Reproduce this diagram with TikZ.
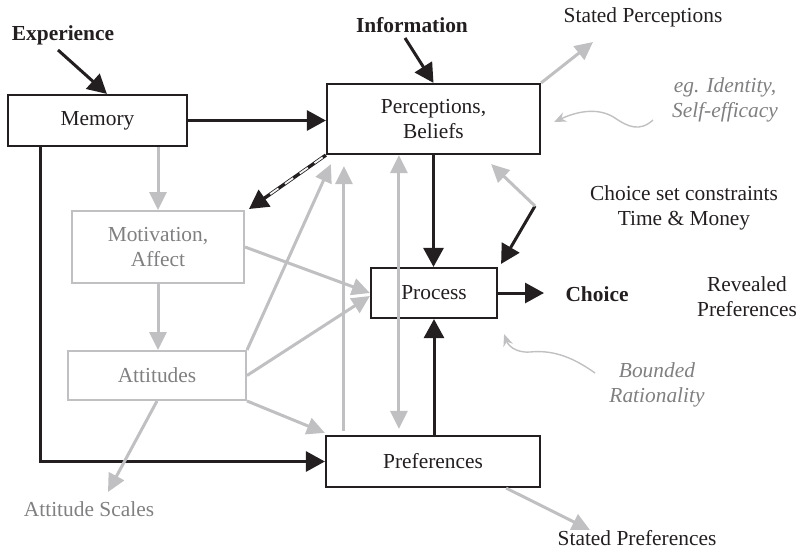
\documentclass[tikz,border=0pt]{standalone}
\usepackage{fontspec}
\setmainfont{Liberation Serif}
\usepackage{tikz}
\usetikzlibrary{arrows.meta, calc}
\definecolor{mdlblack}{RGB}{35,31,32}
\definecolor{mdlgray}{RGB}{192,192,194}
\definecolor{mdltext}{RGB}{128,128,130}

\begin{document}
\begin{tikzpicture}[x=0.5pt, y=-0.5pt,
  every node/.style={font=\fontsize{10.7}{12.5}\selectfont, text=mdlblack},
  box/.style={draw=mdlblack, line width=1.1pt, fill=white, align=center, inner sep=0pt},
  greybox/.style={draw=mdlgray, line width=1pt, fill=white, align=center, inner sep=0pt, text=mdltext},
  blk/.style={draw=mdlblack, line width=1.5pt, -{Triangle[length=9.5pt,width=10pt]}},
  gry/.style={draw=mdlgray, line width=1.5pt, -{Triangle[length=9pt,width=8.5pt]}},
  note/.style={align=center, text=mdltext},
  wavy/.style={draw=mdlgray, line width=0.7pt, -{Stealth[length=6pt,width=5pt]}}]

\useasboundingbox (0,0) rectangle (798,553);

%% Boxes
\node[box, minimum width=89.5pt, minimum height=25.5pt] (mem) at (97.5,120.5) {Memory};
\node[box, minimum width=106.5pt, minimum height=35pt] (per) at (433.5,119) {Perceptions,\\Beliefs};
\node[greybox, minimum width=86pt, minimum height=36pt] (mot) at (158,247) {Motivation,\\Affect};
\node[greybox, minimum width=89pt, minimum height=24.5pt] (att) at (157,375.5) {Attitudes};
\node[box, minimum width=63pt, minimum height=25pt] (proc) at (434,293) {Process};
\node[box, minimum width=107pt, minimum height=25.5pt] (pref) at (433,461.5) {Preferences};

%% Labels
\node[font=\fontsize{10.7}{12.5}\selectfont\bfseries] (exp) at (63,35) {Experience};
\node[font=\fontsize{10.7}{12.5}\selectfont\bfseries] (info) at (412,25) {Information};
\node (sperc) at (643,17) {Stated Perceptions};
\node[note, font=\fontsize{10.7}{12.5}\selectfont\itshape] (ident) at (725,100) {eg. Identity,\\Self-efficacy};
\node[align=center] (cset) at (684,208) {Choice set constraints\\Time \& Money};
\node[font=\fontsize{10.7}{12.5}\selectfont\bfseries] (choice) at (597,294) {Choice};
\node[align=center] (reveal) at (747,297) {Revealed\\Preferences};
\node[note, font=\fontsize{10.7}{12.5}\selectfont\itshape] (bound) at (657,385) {Bounded\\Rationality};
\node[note] (scales) at (89,509) {Attitude Scales};
\node (spref) at (637,538) {Stated Preferences};

%% Free ends
\coordinate (expS) at (58,50);
\coordinate (infoS) at (405,38);
\coordinate (choiceIn) at (544,293);
\coordinate (cons) at (535,206);
\coordinate (spercIn) at (593,42);
\coordinate (sprefIn) at (590,530);
\coordinate (scalesIn) at (108,492);

%% Black connectors
\draw[blk] (expS) -- ($(mem.north west)+(100,0)$);
\draw[blk] (infoS) -- (per.north);
\draw[blk] (mem.east) -- (mem.east -| per.west);
\draw[blk] ($(mem.south west)+(34,0)$) |- (pref.west);
\draw[blk] (per.south) -- (per.south |- proc.north);
\draw[blk] (proc.south |- pref.north) -- (proc.south);
\draw[blk] (proc.east) -- (choiceIn);
\draw[blk] (cons) -- ($(proc.north east)+(3,-3)$);

%% Dashed feedback
\draw[blk, line width=1.7pt] (per.south west) -- ($(mot.north east)+(4,-1)$);
\draw[white!85!mdlgray, line width=0.9pt, dash pattern=on 5pt off 4pt, shorten <=2pt, shorten >=11pt]
  (per.south west) -- ($(mot.north east)+(4,-1)$);

%% Grey connectors
\draw[gry] (cons) -- ($(per.south east)+(-50,9)$);
\draw[gry] (mem.south -| mot.north) -- (mot.north);
\draw[gry] (mot.south) -- (mot.south |- att.north);
\draw[gry] (mot.east) -- (proc.west);
\draw[gry] (att.east) -- ($(proc.west)+(0,3)$);
\draw[gry] (att.north east) -- ($(per.south west)+(5,9)$);
\draw[gry] ($(pref.north west)+(19,-4)$) -- ($(per.south west)+(18,11)$);
\draw[gry, {Triangle[length=9pt,width=8.5pt]}-{Triangle[length=9pt,width=8.5pt]}]
  ($(per.south west)+(73,0)$) -- ($(pref.north west)+(74,-6)$);
\draw[gry] (att.south east) -- ($(pref.north west)+(0,-2)$);
\draw[gry] (att.south) -- (scalesIn);
\draw[gry] (per.north east) -- (spercIn);
\draw[gry] ($(pref.south east)+(-35,0)$) -- (sprefIn);

%% Wavy pointers
\draw[wavy] (653,120) .. controls (640,132) and (628,127) .. (615,118)
  .. controls (600,108) and (580,110) .. ($(per.east)+(13,3)$);
\draw[wavy] (595,373) .. controls (570,355) and (550,350) .. (530,352)
  .. controls (515,353) and (508,345) .. ($(proc.south east)+(6,15)$);

\end{tikzpicture}
\end{document}
